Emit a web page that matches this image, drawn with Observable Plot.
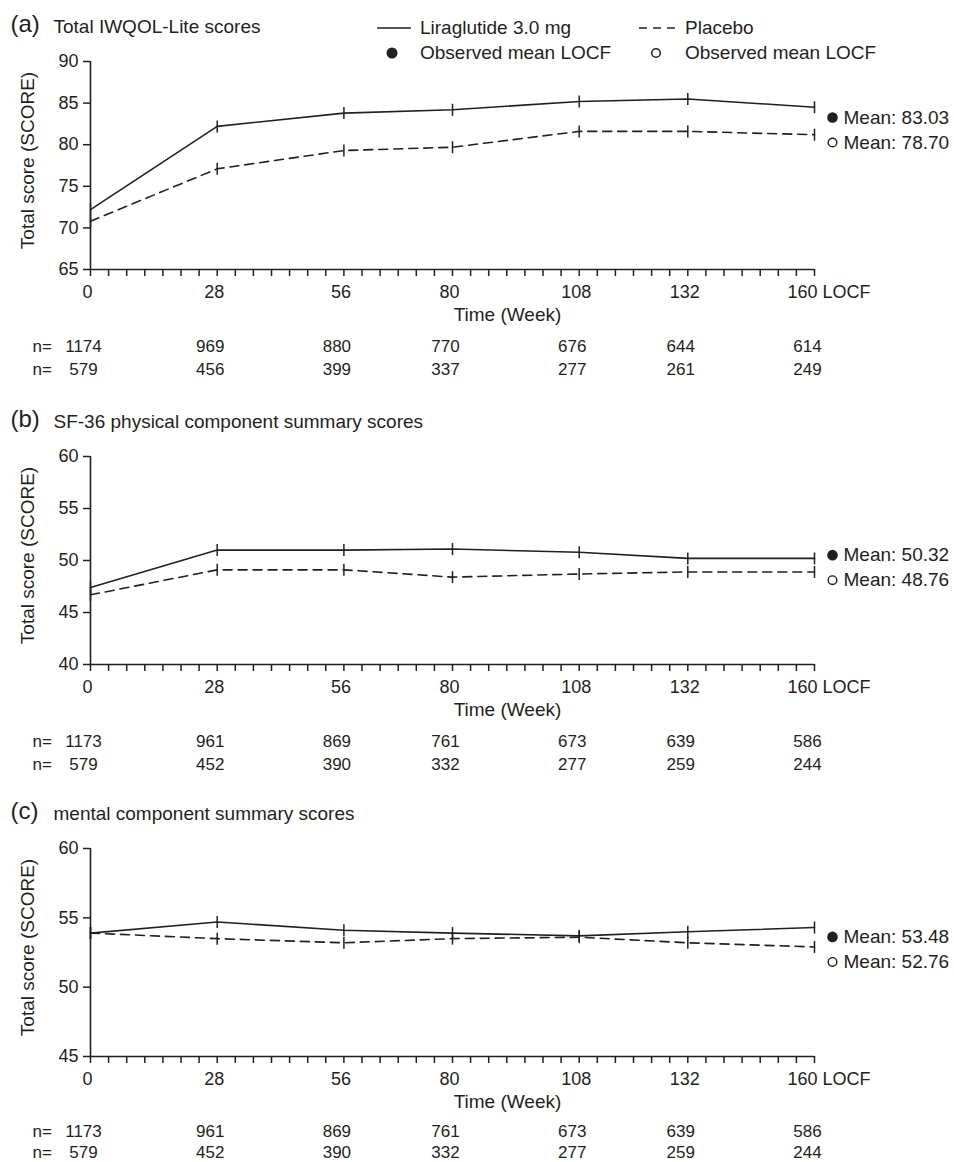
<!DOCTYPE html>
<html>
<head>
<meta charset="utf-8">
<script src="https://cdn.jsdelivr.net/npm/d3@7"></script>
<script src="https://cdn.jsdelivr.net/npm/@observablehq/plot@0.6"></script>
<style>
  html, body { margin: 0; padding: 0; background: #fff; overflow: hidden; }
  #wrap { position: relative; width: 954px; height: 1162px; font-family: "Liberation Sans", Arial, Helvetica, sans-serif; color: #231f20; }
  #wrap svg { display: block; }
  #legend { position: absolute; left: 0; top: 0; }
</style>
</head>
<body>
<div id="wrap">
  <div id="charts"></div>
  <svg id="legend" width="954" height="62" font-family="Liberation Sans, Arial, sans-serif" font-size="19" fill="#231f20">
    <line x1="377" x2="411" y1="28" y2="28" stroke="#231f20" stroke-width="1.6"></line>
    <text x="420" y="34">Liraglutide 3.0 mg</text>
    <line x1="639" x2="675" y1="28" y2="28" stroke="#231f20" stroke-width="1.6" stroke-dasharray="8,6"></line>
    <text x="685" y="34">Placebo</text>
    <circle cx="392" cy="53" r="5.5" fill="#231f20"></circle>
    <text x="420" y="59">Observed mean LOCF</text>
    <circle cx="656" cy="53" r="4.3" fill="none" stroke="#231f20" stroke-width="1.5"></circle>
    <text x="685" y="59">Observed mean LOCF</text>
  </svg>
</div>
<script>
// ---- data ----
const weeks = [0, 28, 56, 80, 108, 132, 160];
const xTickLabels = ["0", "28", "56", "80", "108", "132", "160 LOCF"];
const minorTicks = d3.range(0, 161, 4);
const seriesNames = ["Liraglutide 3.0 mg", "Placebo"];

// (a) Total IWQOL-Lite scores
const iwqolLira = [72.2, 82.2, 83.8, 84.2, 85.2, 85.5, 84.5];
const iwqolPlacebo = [70.8, 77.1, 79.3, 79.7, 81.6, 81.6, 81.2];
const iwqolMeans = [83.03, 78.70];
const iwqolNLira = [1174, 969, 880, 770, 676, 644, 614];
const iwqolNPlacebo = [579, 456, 399, 337, 277, 261, 249];
const iwqolYTicks = [65, 70, 75, 80, 85, 90];

// (b) SF-36 physical component summary scores
const pcsLira = [47.4, 51.0, 51.0, 51.1, 50.8, 50.2, 50.2];
const pcsPlacebo = [46.7, 49.1, 49.1, 48.4, 48.7, 48.9, 48.9];
const pcsMeans = [50.32, 48.76];
const pcsNLira = [1173, 961, 869, 761, 673, 639, 586];
const pcsNPlacebo = [579, 452, 390, 332, 277, 259, 244];
const pcsYTicks = [40, 45, 50, 55, 60];

// (c) mental component summary scores
const mcsLira = [53.9, 54.7, 54.1, 53.9, 53.7, 54.0, 54.3];
const mcsPlacebo = [53.9, 53.5, 53.2, 53.5, 53.6, 53.2, 52.9];
const mcsMeans = [53.48, 52.76];
const mcsNLira = [1173, 961, 869, 761, 673, 639, 586];
const mcsNPlacebo = [579, 452, 390, 332, 277, 259, 244];
const mcsYTicks = [45, 50, 55, 60];

// ---- drawing ----
const INK = "#231f20";
const FONT = "Liberation Sans, Arial, Helvetica, sans-serif";
const vbar = {
  draw(ctx, size) {
    const r = Math.sqrt(size / Math.PI);
    ctx.moveTo(0, -r);
    ctx.lineTo(0, r);
  }
};

function panel(cfg) {
  const rows = [];
  weeks.forEach((w, i) => {
    rows.push({week: w, value: cfg.lira[i], group: seriesNames[0]});
    rows.push({week: w, value: cfg.placebo[i], group: seriesNames[1]});
  });
  const lira = rows.filter(d => d.group === seriesNames[0]);
  const plac = rows.filter(d => d.group === seriesNames[1]);
  const tickData = weeks.map((w, i) => ({week: w, label: xTickLabels[i]}));
  const nData = weeks.map((w, i) => ({week: w, n1: String(cfg.nLira[i]), n2: String(cfg.nPlacebo[i])}));
  const lastWeek = weeks[weeks.length - 1];
  const meanRows = [{week: lastWeek, y: cfg.means[0]}];
  const ymin = cfg.yTicks[0], ymax = cfg.yTicks[cfg.yTicks.length - 1];
  const frameH = 208;
  const [r1, r2] = cfg.nRowDy;

  return Plot.plot({
    width: 954,
    height: cfg.marginTop + frameH + cfg.marginBottom,
    marginLeft: 90,
    marginRight: 140,
    marginTop: cfg.marginTop,
    marginBottom: cfg.marginBottom,
    style: {fontFamily: FONT, color: INK, background: "#fff", overflow: "visible"},
    x: {domain: [0, 160]},
    y: {domain: [ymin, ymax]},
    marks: [
      // axes
      Plot.axisY({ticks: cfg.yTicks, tickSize: 7, tickPadding: 5, label: null, fontSize: 18, strokeWidth: 1.5}),
      Plot.axisX({ticks: minorTicks, tickSize: 7, tickFormat: () => "", label: null, strokeWidth: 1.5}),
      Plot.ruleX([0], {stroke: INK, strokeWidth: 1.6}),
      Plot.ruleY([ymin], {stroke: INK, strokeWidth: 1.6}),
      Plot.text(tickData.slice(0, -1), {x: "week", text: "label", frameAnchor: "bottom", lineAnchor: "middle", textAnchor: "middle", dy: 23, dx: -3, fontSize: 18, fill: INK}),
      Plot.text(tickData.slice(-1), {x: "week", text: "label", frameAnchor: "bottom", lineAnchor: "middle", textAnchor: "start", dy: 23, dx: -27, fontSize: 18, fill: INK}),
      Plot.text(["Time (Week)"], {frameAnchor: "bottom", lineAnchor: "middle", textAnchor: "middle", dy: 45, dx: 55, fontSize: 19, fill: INK}),
      Plot.text(["Total score (SCORE)"], {frameAnchor: "left", lineAnchor: "middle", textAnchor: "middle", rotate: -90, dx: -63, dy: -5, fontSize: 19, fill: INK}),
      // header
      Plot.text([cfg.letter], {frameAnchor: "top-left", lineAnchor: "middle", textAnchor: "start", dx: -80, dy: -37, fontSize: 24, fill: INK}),
      Plot.text([cfg.title], {frameAnchor: "top-left", lineAnchor: "middle", textAnchor: "start", dx: -37, dy: -35, fontSize: 19, fill: INK}),
      // data
      Plot.line(lira, {x: "week", y: "value", stroke: INK, strokeWidth: 1.6}),
      Plot.line(plac, {x: "week", y: "value", stroke: INK, strokeWidth: 1.6, strokeDasharray: "9,6"}),
      Plot.dot(rows, {x: "week", y: "value", symbol: vbar, r: 6, stroke: INK, fill: "none", strokeWidth: 1.5}),
      // mean labels
      Plot.dot(meanRows, {x: "week", y: "y", dx: 18, dy: -2, r: 5.3, fill: INK, stroke: "none"}),
      Plot.text(meanRows, {x: "week", y: "y", text: () => "Mean: " + cfg.means[0].toFixed(2), dx: 29, dy: -2, textAnchor: "start", lineAnchor: "middle", fontSize: 19, fill: INK}),
      Plot.dot(meanRows, {x: "week", y: "y", dx: 18, dy: 23, r: 4.3, fill: "none", stroke: INK, strokeWidth: 1.4}),
      Plot.text(meanRows, {x: "week", y: "y", text: () => "Mean: " + cfg.means[1].toFixed(2), dx: 29, dy: 23, textAnchor: "start", lineAnchor: "middle", fontSize: 19, fill: INK}),
      // n rows
      Plot.text(["n="], {frameAnchor: "bottom-left", lineAnchor: "middle", textAnchor: "start", dx: -58, dy: r1, fontSize: 17, fill: INK}),
      Plot.text(["n="], {frameAnchor: "bottom-left", lineAnchor: "middle", textAnchor: "start", dx: -58, dy: r2, fontSize: 17, fill: INK}),
      Plot.text(nData, {x: "week", text: "n1", frameAnchor: "bottom", lineAnchor: "middle", textAnchor: "middle", dx: -7, dy: r1, fontSize: 17, fill: INK}),
      Plot.text(nData, {x: "week", text: "n2", frameAnchor: "bottom", lineAnchor: "middle", textAnchor: "middle", dx: -7, dy: r2, fontSize: 17, fill: INK})
    ]
  });
}

const charts = document.getElementById("charts");
charts.append(panel({
  letter: "(a)", title: "Total IWQOL-Lite scores",
  lira: iwqolLira, placebo: iwqolPlacebo, means: iwqolMeans,
  nLira: iwqolNLira, nPlacebo: iwqolNPlacebo, yTicks: iwqolYTicks,
  marginTop: 61, marginBottom: 108, nRowDy: [77, 100]
}));
charts.append(panel({
  letter: "(b)", title: "SF-36 physical component summary scores",
  lira: pcsLira, placebo: pcsPlacebo, means: pcsMeans,
  nLira: pcsNLira, nPlacebo: pcsNPlacebo, yTicks: pcsYTicks,
  marginTop: 79, marginBottom: 108, nRowDy: [77, 100]
}));
charts.append(panel({
  letter: "(c)", title: "mental component summary scores",
  lira: mcsLira, placebo: mcsPlacebo, means: mcsMeans,
  nLira: mcsNLira, nPlacebo: mcsNPlacebo, yTicks: mcsYTicks,
  marginTop: 76, marginBottom: 106, nRowDy: [75, 96]
}));
</script>
</body>
</html>
